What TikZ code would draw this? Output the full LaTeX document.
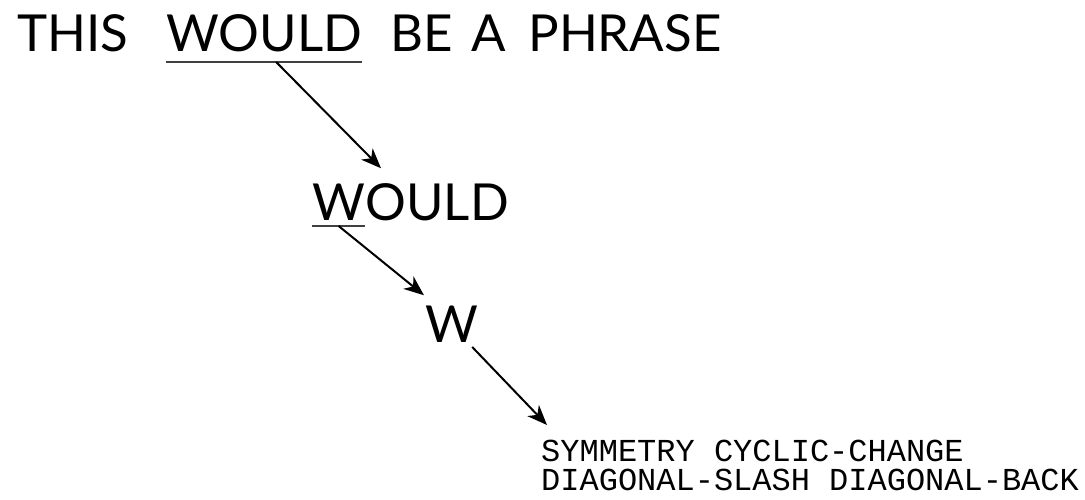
\documentclass[tikz,border=0pt]{standalone}
\usepackage{fontspec}
\setmainfont{Lato}
\setmonofont{Liberation Mono}
\usetikzlibrary{positioning,arrows.meta,calc}
\tikzset{
  word/.style={inner sep=0pt,font=\fontsize{51}{60}\selectfont},
  codetext/.style={inner sep=0pt,align=left,font=\ttfamily\fontsize{32}{29}\selectfont},
  uline/.style={line width=2.2pt,black!75},
  link/.style={line width=2pt,-{Stealth[length=20pt,width=16pt,inset=6pt]}}
}
\begin{document}
\begin{tikzpicture}[x=1pt,y=1pt]
\useasboundingbox (0,0) rectangle (1085,-500);
\node[word,anchor=base west] (this) at (17,-52) {THIS};
\node[word,base right=38pt of this] (would) {WOULD};
\node[word,base right=28pt of would] (be) {BE};
\node[word,base right=18pt of be] (a) {A};
\node[word,base right=22pt of a] (phrase) {PHRASE};
\draw[uline] ([yshift=-10pt]would.base west) -- coordinate[pos=0.56] (u1) ([yshift=-10pt]would.base east);
\node[word,anchor=base west] (w2) at (312,-220) {W};
\node[word,base right=0pt of w2] (ould) {OULD};
\draw[uline] ([yshift=-6pt]w2.base west) -- coordinate[pos=0.5] (u2) ([yshift=-6pt]w2.base east);
\node[word,anchor=base west] (w3) at (425,-342) {W};
\node[codetext,anchor=north west] (codes) at (541,-440) {SYMMETRY CYCLIC-CHANGE\\DIAGONAL-SLASH DIAGONAL-BACK};
\draw[link] (u1) -- ([shift={(69,15)}]w2.north west);
\draw[link] (u2) -- ([shift={(-1,10)}]w3.north west);
\draw[link] ([shift={(-6,-5)}]w3.base east) -- ([shift={(6,15)}]codes.north west);
\end{tikzpicture}
\end{document}
